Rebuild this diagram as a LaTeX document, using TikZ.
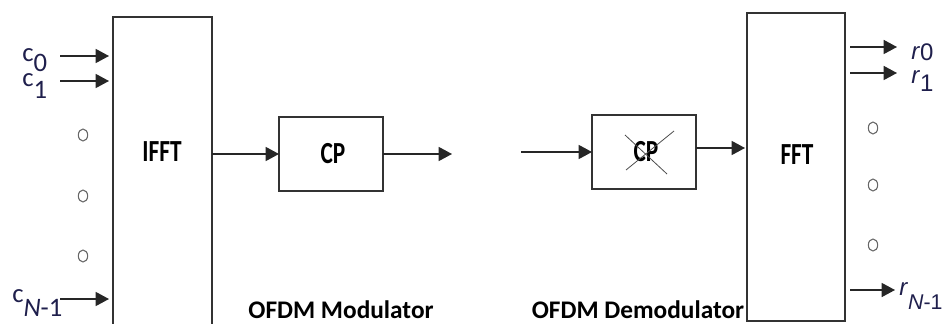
\documentclass[tikz,border=0pt]{standalone}
\usepackage{fontspec}
\setmainfont{Carlito}
\newfontfamily\arialfam{Liberation Sans}
\usetikzlibrary{arrows.meta,shapes.geometric}
\definecolor{labink}{rgb}{0.12,0.12,0.30}
\definecolor{boxline}{rgb}{0.20,0.20,0.20}
% symbol with a lowered index: #1 symbol, #2 index, #3 drop
\newcommand\idx[3]{#1\raisebox{-#3}{#2}}
\begin{document}
\begin{tikzpicture}[x=0.75pt,y=-0.75pt,
  blockbox/.style={draw=boxline,line width=1.1pt,rectangle,inner sep=0pt,outer sep=0pt},
  blocktext/.style={font=\fontsize{23}{26}\selectfont\bfseries,inner sep=0pt,xscale=0.76},
  caption/.style={font=\fontsize{19}{22}\selectfont\bfseries,inner sep=0pt},
  inlab/.style={font=\fontsize{20}{22}\selectfont,text=labink,inner sep=0pt,anchor=base west},
  outlab/.style={font=\arialfam\fontsize{18}{20}\selectfont,text=labink,inner sep=0pt,anchor=base west},
  arr/.style={draw=black!85,line width=1.1pt,-{Triangle[length=10pt,width=10.5pt]}},
  dot/.style={draw=black!60,line width=0.8pt,ellipse,minimum width=7pt,minimum height=9pt,inner sep=0pt},
  xline/.style={draw=black!70,line width=0.6pt}]
\useasboundingbox (0,0) rectangle (944,324);

% blocks
\node[blockbox,minimum width=74.25pt,minimum height=234.75pt] (ifft) at (162.5,173.5) {};
\node[blocktext] (iffttext) at (162,152) {IFFT};
\node[blockbox,minimum width=78pt,minimum height=55.5pt] (cp) at (331,154) {};
\node[blocktext] (cptext) at (333,154) {CP};
\node[blockbox,minimum width=78pt,minimum height=55.5pt] (dcp) at (644,152) {};
\node[blocktext] (dcptext) at (646,152) {CP};
\node[blockbox,minimum width=73.5pt,minimum height=231pt] (fft) at (796,167) {};
\node[blocktext] (ffttext) at (797,155) {FFT};

% removed cyclic prefix
\draw[xline] (625,135) -- (667,174);
\draw[xline] (674,131) -- (626,170);

% captions
\node[caption] (modcap) at (341,310) {OFDM Modulator};
\node[caption] (demodcap) at (638,310) {OFDM Demodulator};

% input symbols
\node[inlab] (c0) at (22,62) {\idx{c}{0}{7pt}};
\node[inlab] (c1) at (22,87) {\idx{c}{1}{9pt}};
\node[inlab] (cn) at (12,302) {\idx{c}{\textit{N}-1}{11pt}};
\coordinate (in0) at (60,56);
\coordinate (in1) at (60,81);
\coordinate (inn) at (60,299);
\draw[arr,shorten >=3pt] (in0) -- (in0 -| ifft.west);
\draw[arr,shorten >=3pt] (in1) -- (in1 -| ifft.west);
\draw[arr,shorten >=3pt] (inn) -- (inn -| ifft.west);
\node[dot] (ld1) at (83,135) {};
\node[dot] (ld2) at (83,196) {};
\node[dot] (ld3) at (83,256) {};

% modulator chain
\draw[arr] (cp.west -| ifft.east) -- (cp.west);
\coordinate (txout) at (452,154);
\draw[arr] (cp.east) -- (txout);

% demodulator chain
\coordinate (rxin) at (521,152);
\draw[arr] (rxin) -- (dcp.west);
\coordinate (dcpout) at (696,148);
\draw[arr,shorten >=1.5pt] (dcpout) -- (dcpout -| fft.west);

% output symbols
\coordinate (out0) at (850,47);
\coordinate (out1) at (850,73);
\coordinate (outn) at (850,290);
\draw[arr] (out0) -- (897,47) coordinate (r0tip);
\draw[arr] (out1) -- (897,73) coordinate (r1tip);
\draw[arr] (outn) -- (895,290) coordinate (rntip);
\node[outlab] (r0) at (911,60) {\idx{\textit{r}}{0}{0.5pt}};
\node[outlab] (r1) at (911,84) {\idx{\textit{r}}{1}{6pt}};
\node[outlab] (rn) at (899,295) {\idx{\textit{r}}{\fontsize{16}{18}\selectfont\textit{N}-1}{11pt}};
\node[dot] (rd1) at (873,128) {};
\node[dot] (rd2) at (873,185) {};
\node[dot] (rd3) at (873,245) {};
\end{tikzpicture}
\end{document}
